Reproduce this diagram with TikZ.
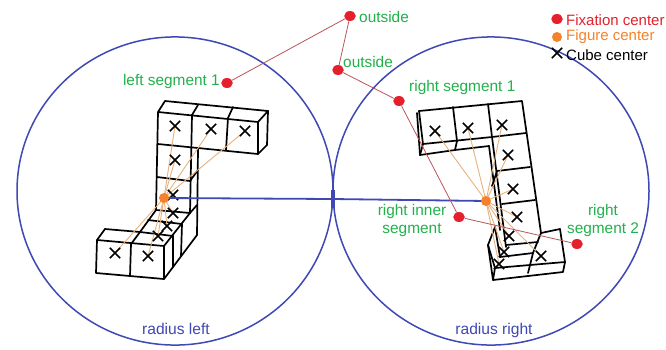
\documentclass[tikz,border=0pt]{standalone}
\usepackage{fontspec}
\setmainfont{Liberation Sans}
\definecolor{bluec}{HTML}{3F48B5}
\definecolor{greent}{HTML}{22B14C}
\definecolor{redd}{HTML}{E3202C}
\definecolor{orangd}{HTML}{F5822A}
\definecolor{conn}{HTML}{B8555A}
\definecolor{ray}{HTML}{E8B27E}
\tikzset{
 cube/.style={draw=black,line width=1.7pt,line join=round,line cap=round},
 ring/.style={draw=bluec,line width=1.5pt},
 fix/.style={ellipse,fill=redd,inner sep=0pt,minimum width=11.5pt,minimum height=10pt},
 fig/.style={circle,fill=orangd,inner sep=0pt,minimum size=10pt},
 lab/.style={text=greent,font=\fontsize{15.4}{18}\selectfont,align=center,inner sep=0pt},
 bluelab/.style={text=bluec,font=\fontsize{15.6}{18}\selectfont,inner sep=0pt},
 legt/.style={anchor=west,inner sep=0pt,font=\fontsize{15}{17}\selectfont},
 link/.style={draw=conn,line width=0.8pt},
 rayl/.style={draw=ray,line width=0.9pt},
 xm/.style={inner sep=0pt,minimum size=10pt},
 xs/.style={draw=black,line width=1.5pt},
}
\usetikzlibrary{shapes.geometric}
\newcommand{\xmark}[2]{\node[xm] (#1) at (#2) {};
 \draw[xs] (#1.north west) -- (#1.south east) (#1.north east) -- (#1.south west);}
\begin{document}
\begin{tikzpicture}[x=1pt,y=-1pt]
\useasboundingbox (0,0) rectangle (666,349);
\fill[white] (0,0) rectangle (666,349);
% circles
\node[ring,circle,minimum size=316pt,inner sep=0pt,yscale=0.975] (cl) at (175,191) {};
\node[ring,circle,minimum size=316pt,inner sep=0pt,yscale=0.975] (cr) at (491,191) {};
% left figure
\draw[cube] (158,112)--(165,101)--(268,111)--(258,122)--(158,112)--(156,210);
\draw[cube] (268,111)--(267,145)--(258,154)--(258,122);
\draw[cube] (192,115)--(198,105) (228,118)--(233,107);
\draw[cube] (192,115)--(190,213) (228,118)--(226,150);
\draw[cube] (158,144)--(258,154);
\draw[cube] (157,177)--(190,181)--(198,170);
\draw[cube] (198,149)--(197,235);
\draw[cube] (190,213)--(197,205);
\draw[cube] (156,210)--(190,213);
\draw[cube] (148,220)--(182,224) (140,232)--(173,236);
\draw[cube] (105,229)--(140,232)--(156,210);
\draw[cube] (97,240)--(105,229);
\draw[cube] (97,240)--(164,246)--(164,279)--(96,273)--cycle;
\draw[cube] (131,244)--(140,232) (131,244)--(130,276);
\draw[cube] (164,246)--(190,213);
\draw[cube] (164,279)--(197,235);
\draw[cube] (173,236)--(173,267) (182,224)--(181,256);
% right figure
\draw[cube] (419,111)--(522,101)--(541,233);
\draw[cube] (419,111)--(423,144)--(492,137)--(526,133);
\draw[cube] (417,113)--(420,155)--(455,150)--(489,146);
\draw[cube] (423,144)--(420,155) (457,141)--(455,150);
\draw[cube] (453,107)--(457,141) (488,104)--(492,137);
\draw[cube] (492,137)--(506,247);
\draw[cube] (489,146)--(500,230);
\draw[cube] (530,167)--(497,171) (535,200)--(502,204);
\draw[cube] (497,171)--(492,186);
\draw[cube] (541,233)--(560,229)--(565,262)--(563,272)--(493,280)--(488,245)--(495,227);
\draw[cube] (506,245)--(538,242);
\draw[cube] (500,257)--(533,253);
\draw[cube] (495,268)--(565,262);
\draw[cube] (541,233)--(533,253)--(528,273);
\draw[cube] (495,268)--(493,280) (488,245)--(495,268) (495,227)--(500,257);
% rays
\coordinate (fl) at (164,198);
\coordinate (fr) at (486,201);
\foreach \a/\b in {175/126,211/129,245/131,175/160,173/195,173/213,167/226,158/236,115/253,148/256}
  \draw[rayl] (fl) -- (\a,\b);
\foreach \a/\b in {435/131,468/128,502/125,508/155,513/189,517/217,509/236,504/252,499/264,541/256}
  \draw[rayl] (fr) -- (\a,\b);
% crosses
\xmark{a1}{175,126}\xmark{a2}{211,129}\xmark{a3}{245,131}\xmark{a4}{175,160}\xmark{a5}{173,195}
\xmark{a6}{173,213}\xmark{a7}{167,226}\xmark{a8}{158,236}\xmark{a9}{115,253}\xmark{a10}{148,256}
\xmark{b1}{435,131}\xmark{b2}{468,128}\xmark{b3}{502,125}\xmark{b4}{508,155}\xmark{b5}{513,189}
\xmark{b6}{517,217}\xmark{b7}{509,236}\xmark{b8}{504,252}\xmark{b9}{499,264}\xmark{b10}{541,256}
% radius line
\coordinate (mid) at (333,199);
\draw[bluec,line width=1.8pt] (fl) -- (mid) -- (fr);
\draw[bluec,line width=3.5pt] (333,190) -- (333,208);
\node[fig] (cfl) at (fl) {};
\node[fig] (cfr) at (fr) {};
% fixation points
\node[fix] (ls) at (227,83) {};
\node[fix] (o1) at (350,16) {};
\node[fix] (o2) at (338,70) {};
\node[fix] (rs) at (399,101) {};
\node[fix] (ri) at (459,217) {};
\node[fix] (r2) at (577,244) {};
\draw[link] (ls)--(o1)--(o2)--(rs)--(ri)--(r2);
% labels
\node[lab,anchor=east] at (220,82) {left segment 1};
\node[lab,anchor=west] at (359,17) {outside};
\node[lab,anchor=west] at (343,62) {outside};
\node[lab,anchor=west] at (409,88) {right segment 1};
\node[lab] at (412,221) {right inner\\segment};
\node[lab] at (603,221) {right\\segment 2};
\node[bluelab] at (176,329) {radius left};
\node[bluelab] at (494,330) {radius right};
% legend
\node[fix] (lg1) at (557,19) {};
\node[fig] (lg2) at (557,37) {};
\xmark{lg3}{557,53}
\node[legt,text=redd] at (566,20) {Fixation center};
\node[legt,text=orangd] at (566,37) {Figure center};
\node[legt,text=black] at (566,55) {Cube center};
\end{tikzpicture}
\end{document}
